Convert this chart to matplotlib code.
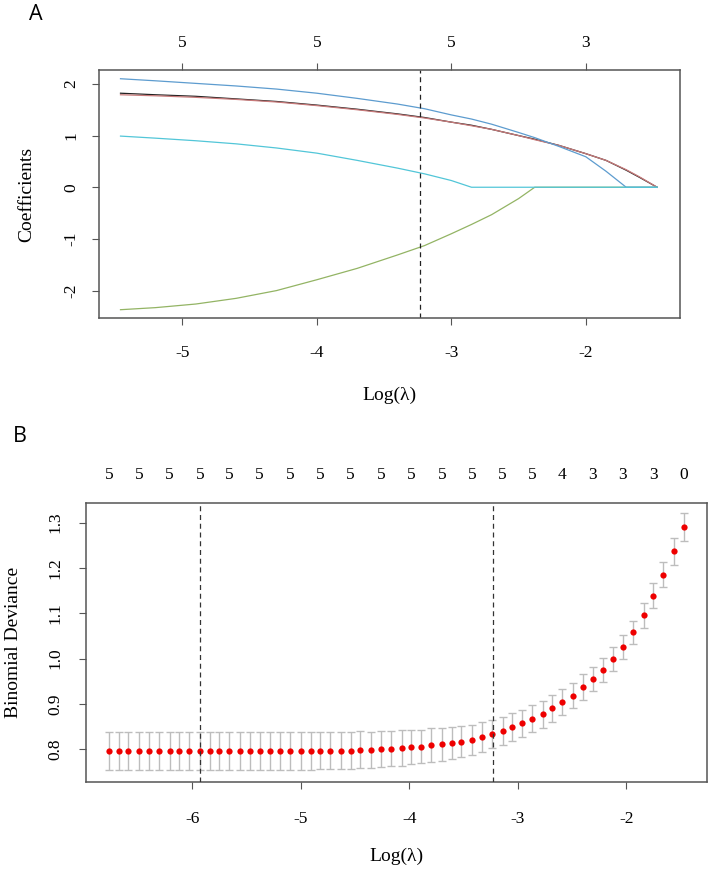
import matplotlib
matplotlib.use('Agg')
import matplotlib.pyplot as plt

plt.rcParams['axes.unicode_minus'] = False

# --- DATA ---
# Panel A: coefficient paths vs log(lambda)
loglam_a = [-5.46, -5.2, -4.9, -4.6, -4.3, -4.0, -3.7, -3.4, -3.2, -3.0,
            -2.85, -2.7, -2.5, -2.38, -2.2, -2.0, -1.85, -1.7, -1.6, -1.47]
coef_black = [1.82, 1.79, 1.76, 1.71, 1.66, 1.59, 1.51, 1.42, 1.35, 1.26,
              1.20, 1.12, 1.00, 0.93, 0.81, 0.65, 0.52, 0.33, 0.19, 0.0]
coef_red = [1.79, 1.77, 1.74, 1.70, 1.65, 1.58, 1.50, 1.41, 1.34, 1.26,
            1.19, 1.12, 1.00, 0.92, 0.81, 0.65, 0.52, 0.34, 0.20, 0.0]
coef_green = [-2.37, -2.33, -2.26, -2.15, -2.00, -1.79, -1.57, -1.31, -1.13, -0.90,
              -0.72, -0.53, -0.22, 0.0, 0.0, 0.0, 0.0, 0.0, 0.0, 0.0]
coef_blue = [2.10, 2.06, 2.01, 1.96, 1.90, 1.82, 1.72, 1.61, 1.52, 1.40,
             1.32, 1.22, 1.06, 0.96, 0.79, 0.59, 0.31, 0.0, 0.0, 0.0]
coef_cyan = [0.99, 0.95, 0.90, 0.84, 0.76, 0.66, 0.52, 0.37, 0.26, 0.13,
             0.0, 0.0, 0.0, 0.0, 0.0, 0.0, 0.0, 0.0, 0.0, 0.0]
top_ticks_a = [-5, -4, -3, -2]
top_labels_a = ['5', '5', '5', '3']
lambda_1se = -3.23

# Panel B: cross-validated binomial deviance
loglam_b = [-6.77, -6.68, -6.59, -6.49, -6.40, -6.31, -6.21, -6.12, -6.03, -5.93,
            -5.84, -5.75, -5.66, -5.56, -5.47, -5.38, -5.28, -5.19, -5.10, -5.00,
            -4.91, -4.82, -4.73, -4.63, -4.54, -4.45, -4.35, -4.26, -4.17, -4.07,
            -3.98, -3.89, -3.80, -3.70, -3.61, -3.52, -3.42, -3.33, -3.24, -3.14,
            -3.05, -2.96, -2.87, -2.77, -2.68, -2.59, -2.49, -2.40, -2.31, -2.21,
            -2.12, -2.03, -1.94, -1.84, -1.75, -1.66, -1.56, -1.47]
dev_mean = [0.796] * 20 + [
    0.797, 0.797, 0.797, 0.797, 0.797, 0.799, 0.799, 0.801, 0.801, 0.803,
    0.805, 0.806, 0.809, 0.811, 0.813, 0.817, 0.821, 0.827, 0.834, 0.840,
    0.849, 0.857, 0.867, 0.877, 0.890, 0.904, 0.918, 0.937, 0.955, 0.975,
    0.999, 1.025, 1.058, 1.095, 1.139, 1.185, 1.237, 1.290]
dev_se = [0.042] * 20 + [
    0.042, 0.041, 0.041, 0.041, 0.041, 0.041, 0.040, 0.040, 0.039, 0.039,
    0.038, 0.037, 0.037, 0.036, 0.035, 0.034, 0.033, 0.032, 0.031, 0.031,
    0.031, 0.030, 0.030, 0.030, 0.029, 0.029, 0.028, 0.028, 0.027, 0.027,
    0.026, 0.026, 0.025, 0.027, 0.027, 0.027, 0.030, 0.030]
df_b = ['5', '5', '5', '5', '5', '5', '5', '5', '5', '5',
        '5', '5', '5', '5', '5', '4', '3', '3', '3', '0']
lambda_min = -5.93

SERIF = 'Liberation Serif'
FRAME = '#555555'
TICK_FS = 12.5
LAB_FS = 14

fig = plt.figure(figsize=(7.08, 8.69), dpi=100)


def style_axes(ax):
    for s in ax.spines.values():
        s.set_color(FRAME)
        s.set_linewidth(1.1)
    ax.tick_params(direction='out', length=5, width=0.8, color=FRAME,
                   labelsize=TICK_FS)
    for lab in ax.get_xticklabels() + ax.get_yticklabels():
        lab.set_fontfamily(SERIF)


# --- PANEL A ---
axA = fig.add_axes([0.1398, 0.6335, 0.8206, 0.2860])
axA.plot(loglam_a, coef_black, color='#222222', lw=0.9)
axA.plot(loglam_a, coef_red, color='#c87a7a', lw=0.9)
axA.plot(loglam_a, coef_green, color='#93b464', lw=0.9)
axA.plot(loglam_a, coef_blue, color='#5d9ccf', lw=0.9)
axA.plot(loglam_a, coef_cyan, color='#52c6d8', lw=0.9)
axA.axvline(lambda_1se, color='#222222', lw=0.9, linestyle=(0, (4, 3)))
axA.set_xlim(-5.62, -1.30)
axA.set_ylim(-2.54, 2.27)
axA.set_xticks([-5, -4, -3, -2])
axA.set_yticks([-2, -1, 0, 1, 2])
axA.set_yticklabels(['-2', '-1', '0', '1', '2'], rotation=90, va='center')
style_axes(axA)
axA.tick_params(axis='x', pad=14)
axA.tick_params(axis='y', pad=9)
axA.set_xlabel('Log(λ)', family=SERIF, fontsize=LAB_FS, va='center')
axA.xaxis.set_label_coords(0.5, -0.308)
axA.set_ylabel('Coefficients', family=SERIF, fontsize=LAB_FS, va='center')
axA.yaxis.set_label_coords(-0.124, 0.5)

topA = axA.secondary_xaxis('top')
topA.set_xticks(top_ticks_a)
topA.set_xticklabels(top_labels_a, family=SERIF)
topA.tick_params(direction='out', length=5, width=0.8, color=FRAME,
                 labelsize=TICK_FS, pad=8.5)
topA.spines['top'].set_visible(False)

# --- PANEL B ---
axB = fig.add_axes([0.1215, 0.1005, 0.8764, 0.3201])
axB.errorbar(loglam_b, dev_mean, yerr=dev_se, fmt='none', ecolor='#bdbdbd',
             elinewidth=1.0, capsize=3, capthick=1.0, zorder=2)
axB.plot(loglam_b, dev_mean, 'o', color='#ee0000', ms=4.5, mec='none', zorder=3)
axB.axvline(lambda_min, color='#333333', lw=0.9, linestyle=(0, (4, 3)), zorder=4)
axB.axvline(lambda_1se, color='#333333', lw=0.9, linestyle=(0, (4, 3)), zorder=4)
axB.set_xlim(-6.98, -1.26)
axB.set_ylim(0.7285, 1.342)
axB.set_xticks([-6, -5, -4, -3, -2])
axB.set_yticks([0.8, 0.9, 1.0, 1.1, 1.2, 1.3])
axB.set_yticklabels(['0.8', '0.9', '1.0', '1.1', '1.2', '1.3'], rotation=90, va='center')
style_axes(axB)
axB.tick_params(axis='x', pad=16)
axB.tick_params(axis='y', pad=11)
axB.set_xlabel('Log(λ)', family=SERIF, fontsize=LAB_FS, va='center')
axB.xaxis.set_label_coords(0.5, -0.2696)
axB.set_ylabel('Binomial Deviance', family=SERIF, fontsize=LAB_FS, va='center')
axB.yaxis.set_label_coords(-0.1176, 0.5)

topB = axB.secondary_xaxis('top')
topB.set_xticks(loglam_b[::3])
topB.set_xticklabels(df_b, family=SERIF)
topB.tick_params(length=0, labelsize=TICK_FS, pad=15)
topB.spines['top'].set_visible(False)

# panel letters
fig.text(36 / 708, 1 - 14 / 869, 'A', family='Open Sans', fontsize=15.5,
         ha='center', va='center')
fig.text(20 / 708, 1 - 437 / 869, 'B', family='Open Sans', fontsize=15.5,
         ha='center', va='center')

fig.savefig('out.png', dpi=100)
